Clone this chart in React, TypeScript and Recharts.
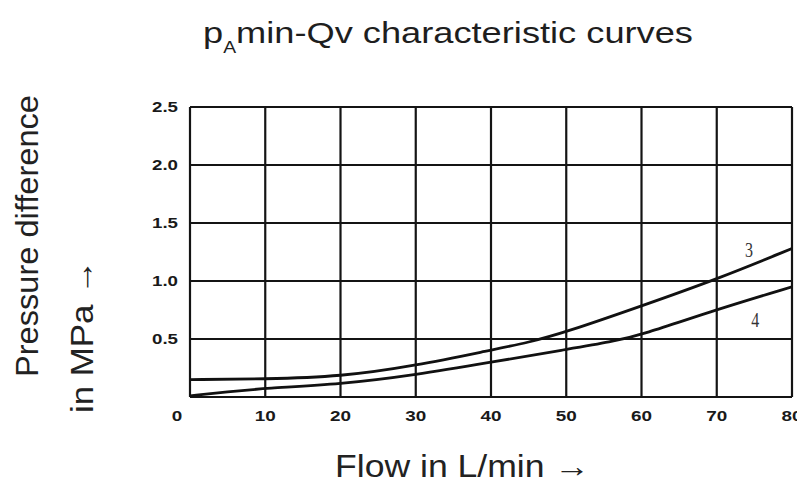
import React from 'react';
import { LineChart, Line, XAxis, YAxis, CartesianGrid, ReferenceDot } from 'recharts';

// axis ticks
const flowTicks = [0, 10, 20, 30, 40, 50, 60, 70, 80];
const pressureTicks = [0, 0.5, 1.0, 1.5, 2.0, 2.5];

// curve 3 (upper at high flow)
const curve3Flow = [0, 10, 20, 30, 40, 45, 50, 60, 70, 80];
const curve3Pressure = [0.15, 0.155, 0.175, 0.27, 0.405, 0.47, 0.56, 0.785, 1.015, 1.28];

// curve 4 (lower)
const curve4Flow = [0, 5, 10, 20, 30, 40, 50, 56, 60, 70, 80];
const curve4Pressure = [0.01, 0.045, 0.075, 0.11, 0.19, 0.3, 0.41, 0.475, 0.535, 0.755, 0.95];

// curve labels
const curveNames = ['3', '4'];
const curveNameFlow = [74.3, 75.1];
const curveNamePressure = [1.27, 0.66];

const W = 797;
const H = 486;
const FONT = '"Liberation Sans", Arial, Helvetica, sans-serif';

const curve3 = curve3Flow.map((flow, i) => ({ flow, p: curve3Pressure[i] }));
const curve4 = curve4Flow.map((flow, i) => ({ flow, p: curve4Pressure[i] }));

// tick text is heavy and wide in the scan, so stretch it a bit
const tickWidth = (s: string) =>
  s.split('').reduce((w, ch) => w + (ch === '.' ? 5 : 10.5), 0);

const renderXTick = (props: any) => {
  const { x, payload } = props;
  const label = String(payload.value);
  const shift = payload.value === 0 ? -13 : 0;
  return (
    <text
      key={label}
      x={x + shift}
      y={421}
      textAnchor="middle"
      fontFamily={FONT}
      fontWeight={900}
      fontSize={14}
      fill="#1a1a1a"
      textLength={tickWidth(label)}
      lengthAdjust="spacingAndGlyphs"
    >
      {label}
    </text>
  );
};

const renderYTick = (props: any) => {
  const { y, payload } = props;
  if (payload.value === 0) return <g key="0" />;
  const label = Number(payload.value).toFixed(1);
  return (
    <text
      key={label}
      x={178}
      y={y + 5}
      textAnchor="end"
      fontFamily={FONT}
      fontWeight={900}
      fontSize={14}
      fill="#1a1a1a"
      textLength={tickWidth(label)}
      lengthAdjust="spacingAndGlyphs"
    >
      {label}
    </text>
  );
};

export default function App() {
  return (
    <div style={{ position: 'absolute', left: 0, top: 0, width: W, height: H, background: '#fff' }}>
      <LineChart
        width={W}
        height={H}
        margin={{ top: 107, right: 5, bottom: 59, left: 150 }}
      >
        <CartesianGrid stroke="#141414" strokeWidth={2.2} />
        <XAxis
          dataKey="flow"
          type="number"
          domain={[0, 80]}
          ticks={flowTicks}
          height={30}
          axisLine={false}
          tickLine={false}
          tick={renderXTick}
          interval={0}
          allowDataOverflow
        />
        <YAxis
          type="number"
          domain={[0, 2.5]}
          ticks={pressureTicks}
          width={40}
          axisLine={false}
          tickLine={false}
          tick={renderYTick}
          interval={0}
          allowDataOverflow
        />
        <Line
          data={curve3}
          dataKey="p"
          type="basis"
          stroke="#111"
          strokeWidth={2.8}
          dot={false}
          isAnimationActive={false}
        />
        <Line
          data={curve4}
          dataKey="p"
          type="basis"
          stroke="#111"
          strokeWidth={2.8}
          dot={false}
          isAnimationActive={false}
        />
        {curveNames.map((name, i) => (
          <ReferenceDot
            key={name}
            x={curveNameFlow[i]}
            y={curveNamePressure[i]}
            r={0}
            shape={(p: any) => (
              <text
                x={p.cx}
                y={p.cy + 7}
                textAnchor="middle"
                fontFamily='"Liberation Serif", "Times New Roman", serif'
                fontSize={20}
                fill="#333"
                textLength={8}
                lengthAdjust="spacingAndGlyphs"
              >
                {name}
              </text>
            )}
          />
        ))}
      </LineChart>

      <svg
        width={W}
        height={H}
        style={{ position: 'absolute', left: 0, top: 0, pointerEvents: 'none' }}
      >
        <text
          x={203}
          y={43}
          fontFamily={FONT}
          fontSize={30}
          fill="#1e1e1e"
          textLength={490}
          lengthAdjust="spacingAndGlyphs"
        >
          p<tspan fontSize={16} dy={10}>A</tspan>
          <tspan dy={-10}>min-Qv characteristic curves</tspan>
        </text>
        <text
          x={335}
          y={477}
          fontFamily={FONT}
          fontSize={31}
          fill="#222"
          textLength={255}
          lengthAdjust="spacingAndGlyphs"
        >
          Flow in L/min →
        </text>
        <text
          transform="translate(38,377) rotate(-90)"
          fontFamily={FONT}
          fontSize={32}
          fill="#222"
          textLength={282}
          lengthAdjust="spacingAndGlyphs"
        >
          Pressure difference
        </text>
        <text
          transform="translate(93,413) rotate(-90)"
          fontFamily={FONT}
          fontSize={32}
          fill="#222"
          textLength={153}
          lengthAdjust="spacingAndGlyphs"
        >
          in MPa →
        </text>
      </svg>
    </div>
  );
}
